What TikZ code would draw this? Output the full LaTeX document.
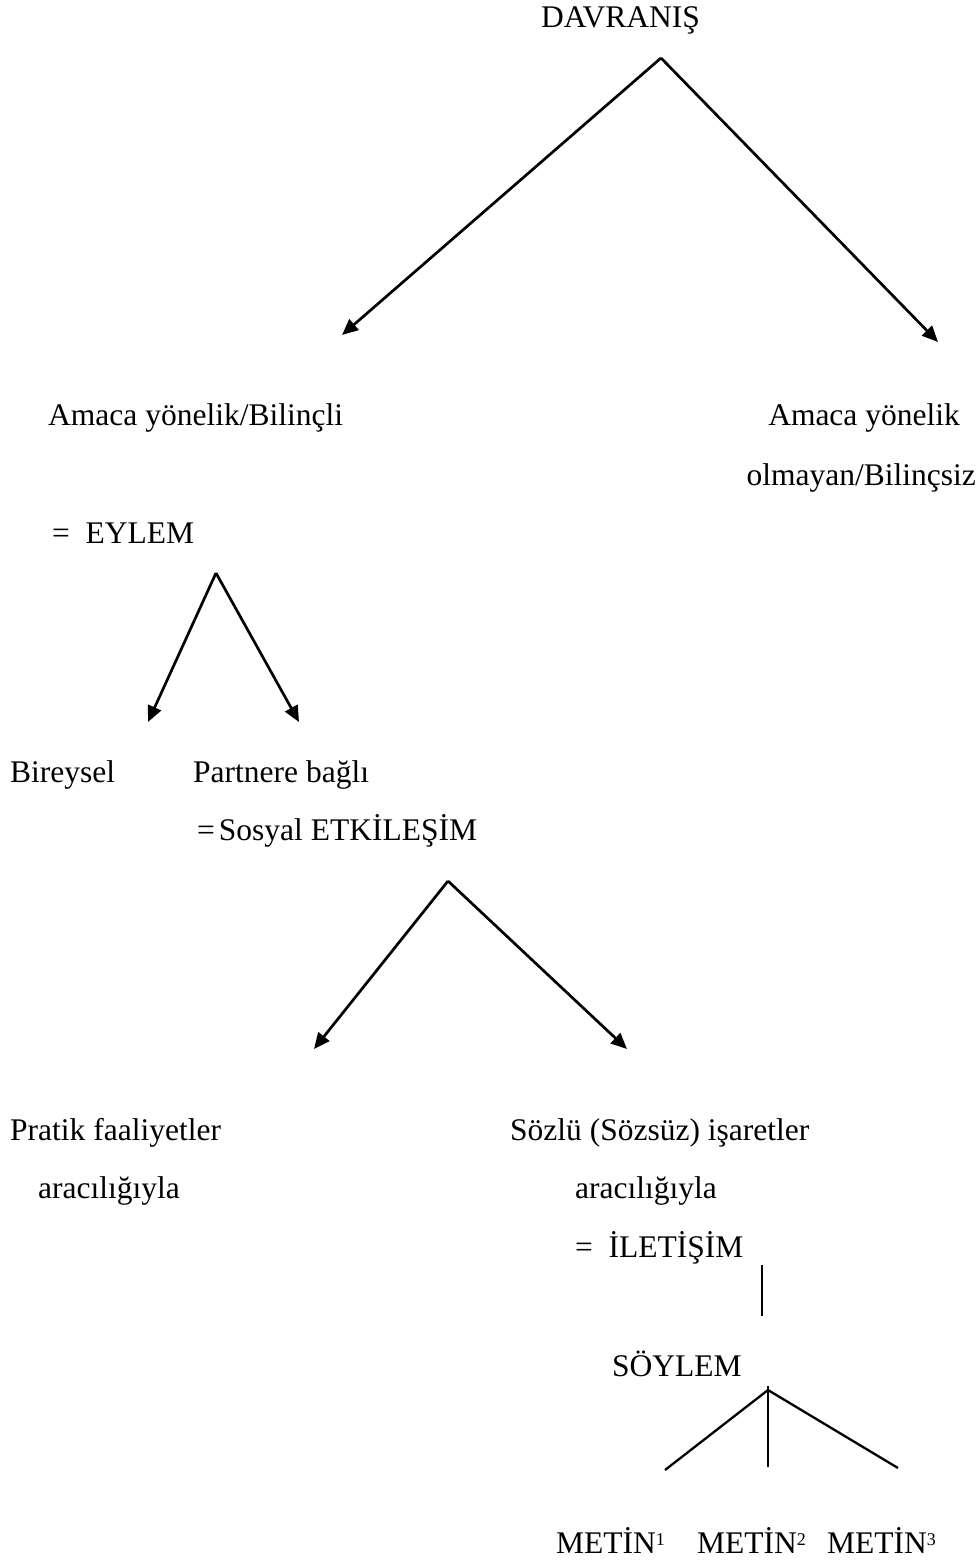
\documentclass[tikz,border=0pt]{standalone}
\usepackage{fontspec}
\setmainfont{Liberation Serif}
\usetikzlibrary{arrows.meta}
\newcommand{\supnum}[1]{\raisebox{8pt}{\fontsize{18}{20}\selectfont #1}}
\begin{document}
\begin{tikzpicture}[x=1pt,y=-1pt,
  lbl/.style={anchor=base west,inner sep=0pt,font=\fontsize{31.5}{37}\selectfont},
  lblr/.style={lbl,anchor=base east},
  arr/.style={line width=2.7pt,-{Triangle[length=16pt,width=14pt]}},
  ln/.style={line width=2.3pt}]
\useasboundingbox (0,0) rectangle (979,1562);
\fill[white] (0,0) rectangle (979,1562);
% texts
\node[lbl] (davr) at (541,28) {DAVRANIŞ};
\node[lbl] (amac1) at (48,425) {Amaca yönelik/Bilinçli};
\node[lblr] (amac2) at (960,425) {Amaca yönelik};
\node[lblr] (olm) at (976,485) {olmayan/Bilinçsiz};
\node[lbl] (eylem) at (52,543) {=\ \ EYLEM};
\node[lbl] (birey) at (10,782) {Bireysel};
\node[lbl] (partner) at (193,782) {Partnere bağlı};
\node[lbl] (sosyal) at (197,840) {=\hspace{4pt}Sosyal ETKİLEŞİM};
\node[lbl] (pratik) at (10,1140) {Pratik faaliyetler};
\node[lbl] (arac1) at (38,1198) {aracılığıyla};
\node[lbl] (sozlu) at (510,1140) {Sözlü (Sözsüz) işaretler};
\node[lbl] (arac2) at (575,1198) {aracılığıyla};
\node[lbl] (ilet) at (575,1257) {=\ \ İLETİŞİM};
\node[lbl] (soylem) at (612,1376) {SÖYLEM};
\node[lbl] (m1) at (556,1553) {METİN\supnum{1}};
\node[lbl] (m2) at (697,1553) {METİN\supnum{2}};
\node[lbl] (m3) at (827,1553) {METİN\supnum{3}};
% connector points
\coordinate (t1) at (661,58);
\coordinate (e1l) at (342,335);
\coordinate (e1r) at (938,342);
\coordinate (t2) at (216,573);
\coordinate (e2l) at (148,722);
\coordinate (e2r) at (299,722);
\coordinate (t3) at (448,881);
\coordinate (e3l) at (314,1049);
\coordinate (e3r) at (627,1049);
\coordinate (v1) at (762,1265);
\coordinate (v2) at (762,1316);
\coordinate (t4) at (768,1390);
\coordinate (t4a) at (768,1386);
\coordinate (e4l) at (665,1470);
\coordinate (e4m) at (768,1467);
\coordinate (e4r) at (898,1468);
% connectors
\draw[arr] (t1) -- (e1l);
\draw[arr] (t1) -- (e1r);
\draw[arr] (t2) -- (e2l);
\draw[arr] (t2) -- (e2r);
\draw[arr] (t3) -- (e3l);
\draw[arr] (t3) -- (e3r);
\draw[ln] (v1) -- (v2);
\draw[ln] (t4a) -- (e4m);
\draw[ln] (e4l) -- (t4) -- (e4r);
\end{tikzpicture}
\end{document}
